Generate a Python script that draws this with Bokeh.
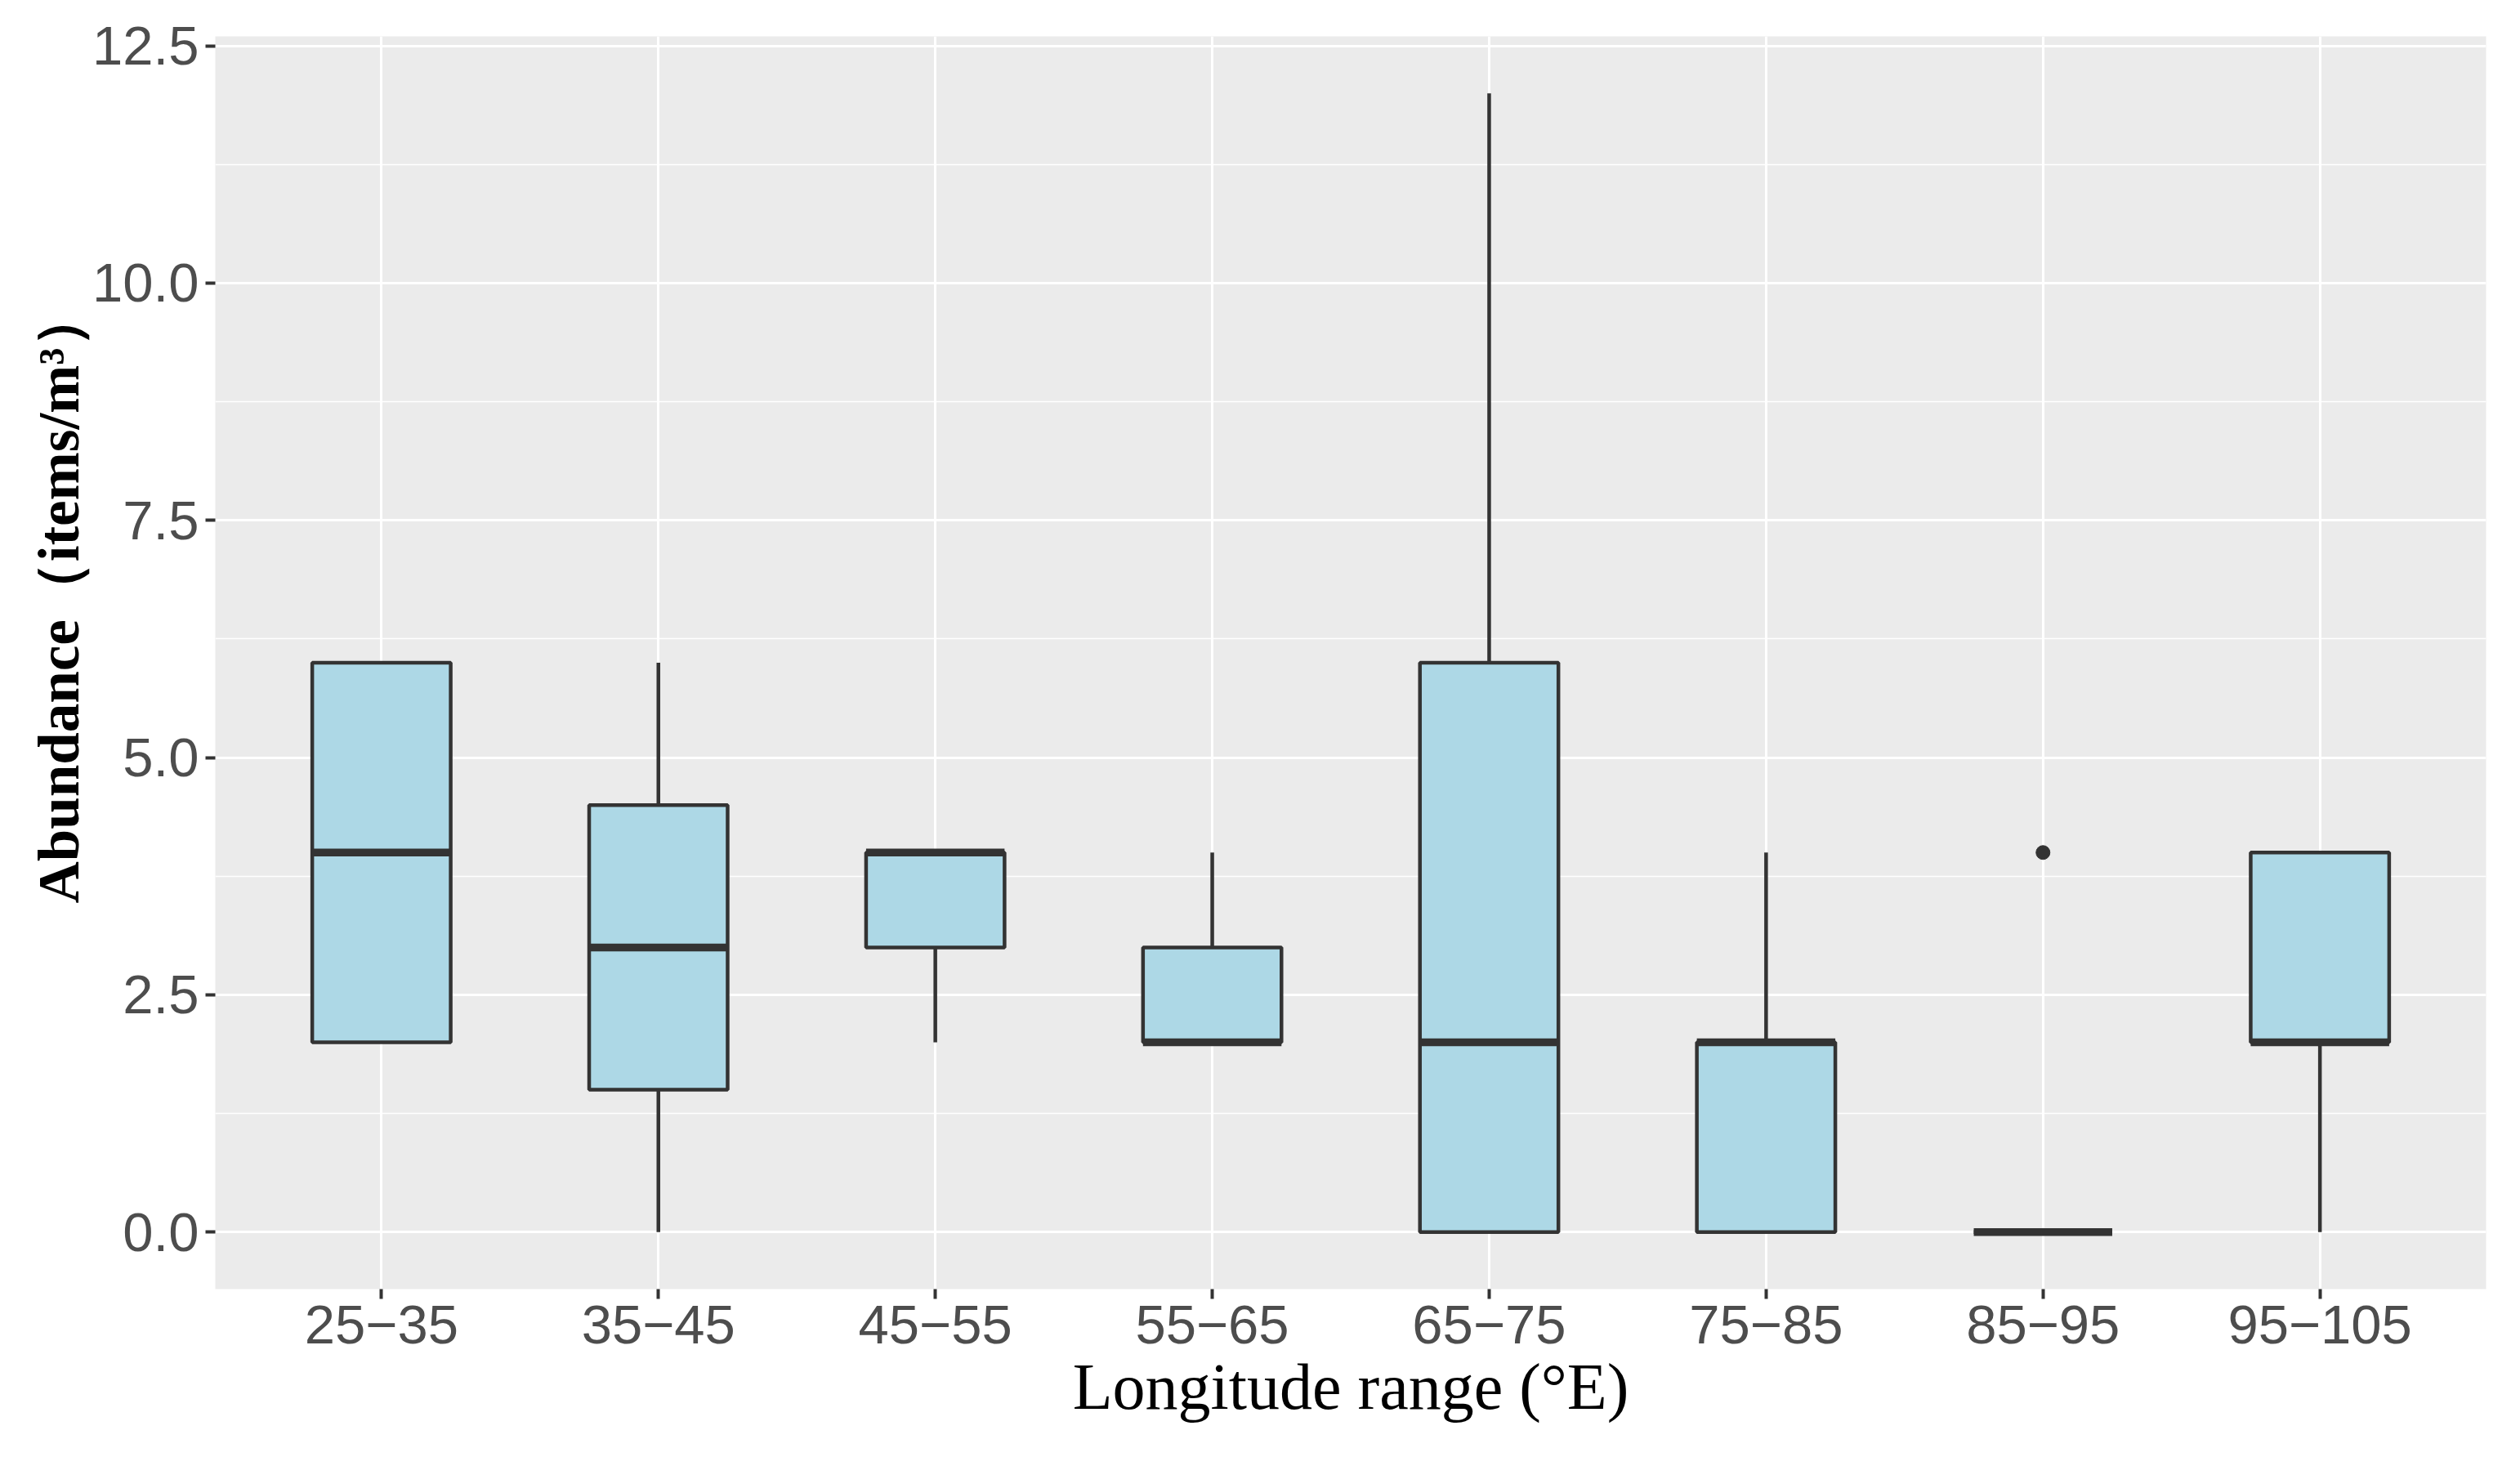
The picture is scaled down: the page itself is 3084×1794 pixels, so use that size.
from bokeh.plotting import figure
from bokeh.models import FixedTicker, Range1d, ColumnDataSource, Title
from bokeh.embed import file_html
from bokeh.resources import INLINE

categories = ["25−35", "35−45", "45−55", "55−65", "65−75", "75−85", "85−95", "95−105"]
q1 = [2.0, 1.5, 3.0, 2.0, 0.0, 0.0, 0.0, 2.0]
median = [4.0, 3.0, 4.0, 2.0, 2.0, 2.0, 0.0, 2.0]
q3 = [6.0, 4.5, 4.0, 3.0, 6.0, 2.0, 0.0, 4.0]
lower = [2.0, 0.0, 2.0, 2.0, 0.0, 0.0, 0.0, 0.0]
upper = [6.0, 6.0, 4.0, 4.0, 12.0, 4.0, 0.0, 4.0]
outlier_cat = ["85−95"]
outlier_val = [4.0]

y_ticks = [0.0, 2.5, 5.0, 7.5, 10.0, 12.5]
y_minor = [1.25, 3.75, 6.25, 8.75, 11.25]

xpos = [i + 1 for i in range(len(categories))]
half = 0.25
src = ColumnDataSource(dict(x=xpos, x0=[x - half for x in xpos], x1=[x + half for x in xpos],
                            q1=q1, q3=q3, med=median, lo=lower, up=upper))
out_src = ColumnDataSource(dict(x=[categories.index(c) + 1 for c in outlier_cat], y=outlier_val))

W, H = 3068, 1778
p = figure(width=W, height=H, output_backend="svg", toolbar_location=None,
           x_range=Range1d(0.4, 8.6), y_range=Range1d(-0.6, 12.6),
           min_border_left=263, min_border_right=26, min_border_top=44, min_border_bottom=201)
p.background_fill_color = "#EBEBEB"
p.border_fill_color = "white"
p.outline_line_color = None

# grid
p.xgrid.ticker = FixedTicker(ticks=xpos)
p.xgrid.grid_line_color = "white"
p.xgrid.grid_line_width = 3
p.ygrid.ticker = FixedTicker(ticks=y_ticks, minor_ticks=y_minor)
p.ygrid.grid_line_color = "white"
p.ygrid.grid_line_width = 3.2
p.ygrid.minor_grid_line_color = "white"
p.ygrid.minor_grid_line_width = 1.6

# whiskers
p.segment(x0="x", y0="q3", x1="x", y1="up", source=src, line_color="#333333", line_width=4.5)
p.segment(x0="x", y0="lo", x1="x", y1="q1", source=src, line_color="#333333", line_width=4.5)
# boxes
p.vbar(x="x", width=0.5, bottom="q1", top="q3", source=src, fill_color="#ADD8E6",
       line_color="#333333", line_width=4.5)
# medians
p.segment(x0="x0", y0="med", x1="x1", y1="med", source=src, line_color="#333333", line_width=9.5)
# outliers
p.scatter(x="x", y="y", source=out_src, size=17, fill_color="#333333", line_color="#333333")

# axes
p.xaxis.ticker = FixedTicker(ticks=xpos)
p.xaxis.major_label_overrides = {x: c for x, c in zip(xpos, categories)}
p.yaxis.ticker = FixedTicker(ticks=y_ticks, minor_ticks=y_minor)
p.yaxis.major_label_overrides = {v: f"{v:.1f}" for v in y_ticks}

for ax in (p.xaxis, p.yaxis):
    ax.axis_line_color = None
    ax.major_tick_line_color = "#333333"
    ax.major_tick_line_width = 4
    ax.major_tick_out = 12
    ax.major_tick_in = 0
    ax.minor_tick_line_color = None
    ax.major_label_text_font = "Liberation Sans"
    ax.major_label_text_font_size = "67px"
    ax.major_label_text_color = "#4D4D4D"
    ax.major_label_standoff = 8

p.xaxis.axis_label = "Longitude range (°E)"
p.xaxis.axis_label_text_font = "Liberation Serif"
p.xaxis.axis_label_text_font_style = "normal"
p.xaxis.axis_label_text_font_size = "80px"
p.xaxis.axis_label_text_color = "black"
p.xaxis.axis_label_standoff = 6

ytitle = Title(text="Abundance（items/m³）", align="left", offset=472,
               text_font="Liberation Serif", text_font_style="bold",
               text_font_size="71px", text_color="black", standoff=0)
p.add_layout(ytitle, "left")

open("out.html", "w").write(file_html(p, INLINE))
